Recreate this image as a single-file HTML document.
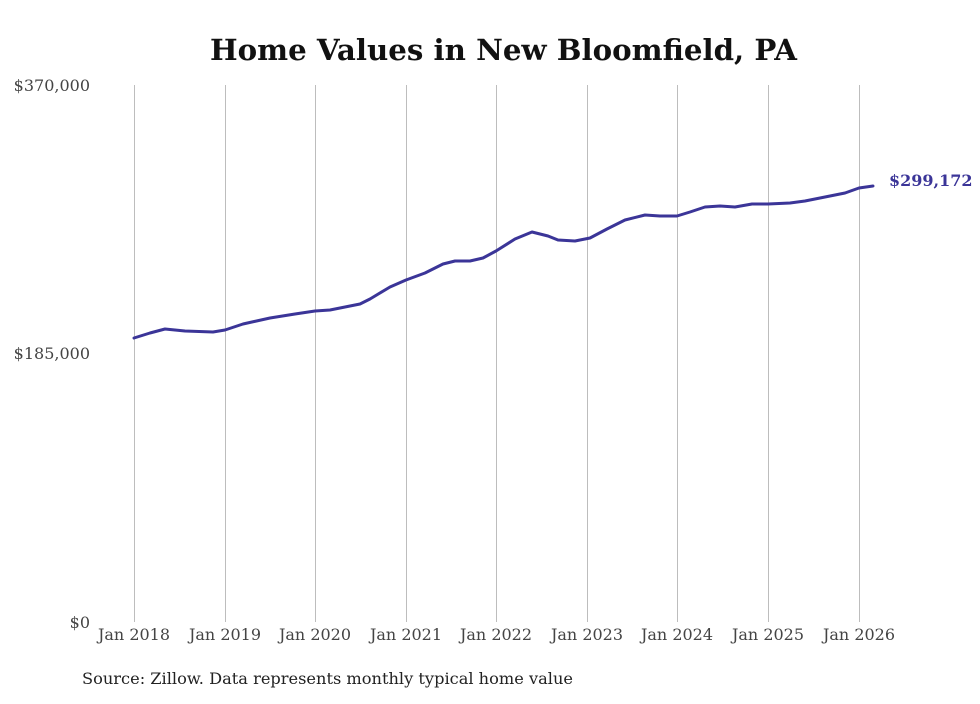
<!DOCTYPE html>
<html><head><meta charset="utf-8"><style>
body{margin:0;background:#fff;}
svg text{font-family:"DejaVu Serif","Liberation Serif",serif;}
</style></head><body>
<svg width="980" height="699" viewBox="0 0 980 699" xmlns="http://www.w3.org/2000/svg">
<rect width="980" height="699" fill="#fff"/>
<text x="210" y="60" font-size="29" font-weight="bold" fill="#111" textLength="587" lengthAdjust="spacingAndGlyphs">Home Values in New Bloomfield, PA</text>
<g stroke="#bdbdbd" stroke-width="1">
<line x1="134.5" y1="85" x2="134.5" y2="622"/>
<line x1="225.5" y1="85" x2="225.5" y2="622"/>
<line x1="315.5" y1="85" x2="315.5" y2="622"/>
<line x1="406.5" y1="85" x2="406.5" y2="622"/>
<line x1="496.5" y1="85" x2="496.5" y2="622"/>
<line x1="587.5" y1="85" x2="587.5" y2="622"/>
<line x1="677.5" y1="85" x2="677.5" y2="622"/>
<line x1="768.5" y1="85" x2="768.5" y2="622"/>
<line x1="859.5" y1="85" x2="859.5" y2="622"/>
</g>
<g font-size="16" fill="#444" text-anchor="end">
<text x="90" y="91">$370,000</text>
<text x="90" y="359">$185,000</text>
<text x="90" y="628">$0</text>
</g>
<g font-size="16" fill="#444" text-anchor="middle">
<text x="134" y="640">Jan 2018</text>
<text x="225" y="640">Jan 2019</text>
<text x="315" y="640">Jan 2020</text>
<text x="406" y="640">Jan 2021</text>
<text x="496" y="640">Jan 2022</text>
<text x="587" y="640">Jan 2023</text>
<text x="677" y="640">Jan 2024</text>
<text x="768" y="640">Jan 2025</text>
<text x="859" y="640">Jan 2026</text>
</g>
<polyline fill="none" stroke="#3b3598" stroke-width="3" stroke-linejoin="round" stroke-linecap="round" points="134,338 150,333 165,329 185,331 213,332 225,330 243,324 270,318 295,314 315,311 330,310 345,307 360,304 370,299 390,287 406,280 425,273 443,264 455,261 470,261 483,258 496,251 515,239 532,232 548,236 558,240 575,241 590,238 607,229 625,220 645,215 660,216 677,216 690,212 705,207 720,206 735,207 752,204 768,204 790,203 805,201 825,197 845,193 859,188 873,186"/>
<text x="889" y="186" font-size="16" font-weight="bold" fill="#3b3598">$299,172</text>
<text x="82" y="684" font-size="16" fill="#222" textLength="491" lengthAdjust="spacingAndGlyphs">Source: Zillow. Data represents monthly typical home value</text>
</svg>
</body></html>
